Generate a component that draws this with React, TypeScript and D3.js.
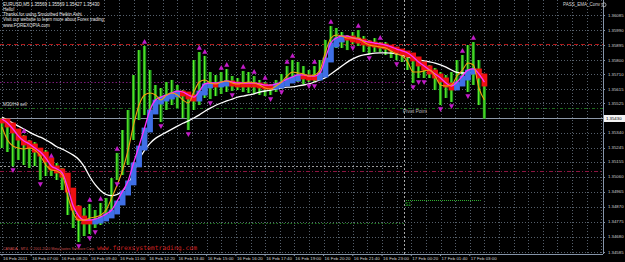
import React from 'react';
import * as d3 from 'd3';

const W = 625;
const H = 262;
const START = new Date(2011, 1, 16, 5, 40);
const DAY2 = new Date(2011, 1, 17, 0, 0);
const BAR_MIN = 15;

const highs = [
  1.35433,1.35408,1.35370,1.35357,1.35325,1.35294,1.35281,1.35243,1.35230,1.35167,
  1.35148,1.35117,1.35041,1.34946,1.34882,1.34863,1.34889,1.34851,1.34895,1.34927,
  1.35053,1.35212,1.35357,1.35484,1.35705,1.35863,1.35889,1.35737,1.35642,1.35623,
  1.35661,1.35674,1.35642,1.35610,1.35598,1.35800,1.35851,1.35826,1.35724,1.35705,
  1.35724,1.35743,1.35699,1.35686,1.35731,1.35724,1.35699,1.35674,1.35661,1.35648,
  1.35674,1.35712,1.35762,1.35800,1.35788,1.35762,1.35737,1.35762,1.35800,1.35927,
  1.36015,1.36003,1.35977,1.35958,1.35977,1.35990,1.35952,1.35927,1.35939,1.35914,
  1.35914,1.35895,1.35876,1.35863,1.35851,1.35813,1.35800,1.35788,1.35769,1.35750,
  1.35724,1.35705,1.35724,1.35800,1.35832,1.35895,1.35914,1.35800,1.35705,
];
const lows = [
  1.35243,1.35218,1.35129,1.35167,1.35136,1.35117,1.35129,1.35041,1.35066,1.35066,
  1.35041,1.34977,1.34819,1.34737,1.34648,1.34686,1.34699,1.34737,1.34756,1.34787,
  1.34838,1.35041,1.35072,1.35136,1.35294,1.35420,1.35452,1.35484,1.35496,1.35408,
  1.35484,1.35515,1.35496,1.35433,1.35357,1.35484,1.35515,1.35560,1.35553,1.35572,
  1.35585,1.35598,1.35604,1.35610,1.35598,1.35591,1.35585,1.35579,1.35572,1.35579,
  1.35598,1.35623,1.35648,1.35661,1.35661,1.35648,1.35661,1.35661,1.35674,1.35705,
  1.35800,1.35876,1.35876,1.35863,1.35901,1.35889,1.35851,1.35838,1.35851,1.35851,
  1.35832,1.35813,1.35800,1.35788,1.35737,1.35655,1.35686,1.35686,1.35686,1.35610,
  1.35515,1.35560,1.35534,1.35610,1.35661,1.35598,1.35642,1.35515,1.35430,
];
const smoothedHA = [
  1.35414,1.35389,1.35351,1.35306,1.35275,1.35256,1.35230,1.35205,1.35167,1.35117,
  1.35098,1.35072,1.34977,1.34863,1.34800,1.34775,1.34775,1.34781,1.34794,1.34813,
  1.34838,1.34895,1.34958,1.35022,1.35136,1.35243,1.35357,1.35471,1.35534,1.35553,
  1.35566,1.35579,1.35591,1.35585,1.35566,1.35553,1.35591,1.35636,1.35642,1.35642,
  1.35648,1.35655,1.35648,1.35642,1.35642,1.35642,1.35642,1.35636,1.35629,1.35629,
  1.35636,1.35648,1.35667,1.35680,1.35693,1.35693,1.35686,1.35686,1.35705,1.35800,
  1.35895,1.35927,1.35939,1.35939,1.35927,1.35920,1.35908,1.35901,1.35895,1.35889,
  1.35882,1.35870,1.35857,1.35845,1.35832,1.35807,1.35775,1.35750,1.35724,1.35699,
  1.35674,1.35642,1.35623,1.35648,1.35686,1.35724,1.35731,1.35699,1.35648,
];
const fastMA = [
  1.35376,1.35294,1.35256,1.35243,1.35237,1.35243,1.35230,1.35193,1.35136,1.35104,
  1.35098,1.35072,1.34939,1.34832,1.34787,1.34787,1.34800,1.34806,1.34819,1.34851,
  1.34927,1.35009,1.35104,1.35230,1.35389,1.35515,1.35579,1.35591,1.35579,1.35547,
  1.35579,1.35591,1.35579,1.35547,1.35528,1.35598,1.35661,1.35674,1.35655,1.35648,
  1.35661,1.35667,1.35655,1.35648,1.35655,1.35661,1.35655,1.35642,1.35623,1.35617,
  1.35636,1.35661,1.35699,1.35724,1.35718,1.35712,1.35699,1.35705,1.35737,1.35851,
  1.35939,1.35958,1.35952,1.35939,1.35939,1.35939,1.35914,1.35895,1.35889,1.35882,
  1.35876,1.35857,1.35838,1.35826,1.35788,1.35724,1.35724,1.35731,1.35737,1.35699,
  1.35642,1.35636,1.35642,1.35699,1.35737,1.35781,1.35769,1.35623,1.35547,
];
const slowMA = [
  1.35439,1.35420,1.35401,1.35382,1.35363,1.35344,1.35325,1.35313,1.35294,1.35275,
  1.35249,1.35237,1.35218,1.35199,1.35174,1.35129,1.35060,1.35009,1.34971,1.34946,
  1.34939,1.34946,1.34971,1.35009,1.35085,1.35174,1.35230,1.35275,1.35306,1.35325,
  1.35344,1.35363,1.35382,1.35401,1.35414,1.35433,1.35452,1.35477,1.35496,1.35515,
  1.35528,1.35541,1.35553,1.35566,1.35572,1.35579,1.35585,1.35598,1.35604,1.35610,
  1.35617,1.35623,1.35629,1.35629,1.35636,1.35642,1.35648,1.35661,1.35674,1.35686,
  1.35712,1.35737,1.35762,1.35788,1.35807,1.35826,1.35832,1.35838,1.35845,1.35845,
  1.35845,1.35845,1.35838,1.35832,1.35819,1.35807,1.35800,1.35794,1.35788,1.35781,
  1.35769,1.35756,1.35737,1.35718,1.35718,1.35718,1.35724,1.35718,1.35705,
];
const upFractals = [4, 9, 16, 18, 21, 26, 36, 37, 40, 41, 44, 46, 48, 52, 53, 57, 60, 65, 69, 84, 86];
const downFractals = [2, 7, 14, 16, 17, 21, 29, 34, 38, 42, 49, 51, 56, 57, 64, 67, 72, 75, 76, 77, 80, 82, 85];

const priceTicks = [
  '1.36085','1.35990','1.35895','1.35800','1.35710','1.35615','1.35525',
  '1.35340','1.35245','1.35155','1.35060','1.34965','1.34870','1.34775','1.34680','1.34585',
];
const currentPrice = 1.3543;
const timeLabels = [
  '16 Feb 2011','16 Feb 07:00','16 Feb 08:20','16 Feb 09:40','16 Feb 11:00','16 Feb 12:20',
  '16 Feb 13:40','16 Feb 15:00','16 Feb 16:20','16 Feb 17:40','16 Feb 19:00','16 Feb 20:20',
  '16 Feb 21:40','16 Feb 23:00','17 Feb 00:20','17 Feb 01:40','17 Feb 03:00',
];
const timeLabelMinutes = [0,80,160,240,320,400,480,560,640,720,800,880,960,1040,1120,1200,1280];

// level lines: price, from-minute, to-minute (null = full width)
const levelPrices = [1.359, 1.35661, 1.35496, 1.35129, 1.35098, 1.34768, 1.34914];
const levelFrom = [null, null, null, null, null, null, 1100];
const levelTo = [null, 1100, null, 1100, null, 1100, 1310];
const levelStyles = [
  { stroke: '#b01818', dash: '4 3', w: 1 },
  { stroke: '#7a1a7a', dash: '1.5 2', w: 1 },
  { stroke: '#1d6a1d', dash: '3 2 1 2', w: 1 },
  { stroke: '#9a9a9a', dash: '2 2', w: 1 },
  { stroke: '#8a1540', dash: '4 2 1 2', w: 1 },
  { stroke: '#1f7a1f', dash: '1.5 2', w: 1 },
  { stroke: '#2fb02f', dash: '1 1', w: 1 },
];

const headerLines = [
  'EURUSD,M5  1.35569 1.35569 1.35427 1.35430',
  'Hello!',
  'Thanks for using Smoothed Heikin Ashi.',
  'Visit our website to learn more about Forex trading:',
  'www.FOREXOPIA.com',
];

const FONT = '"Liberation Sans", Arial, sans-serif';

export default function App() {
  const plotRight = 603;
  const plotBottom = 254;
  const x = d3.scaleTime().domain([START, DAY2]).range([2, 404]);
  const y = d3.scaleLinear().domain([1.34585, 1.36085]).range([252, 15]);
  const t = (m: number) => d3.timeMinute.offset(START, m);
  const bx = (i: number) => x(t(i * BAR_MIN));

  const gridMinutes = d3.range(0, 1700, 40);
  const lineGen = (vals: number[], curve = d3.curveMonotoneX) =>
    d3.line<number>().x((_, i) => bx(i)).y((v) => y(v)).curve(curve)(vals) || '';

  const ribbon = smoothedHA.map((v, i) => {
    const prev = i === 0 ? v : smoothedHA[i - 1];
    const top = Math.min(y(prev), y(v)) - 2.4;
    const bot = Math.max(y(prev), y(v)) + 2.4;
    const up = v > prev;
    return { i, top, bot, up };
  });

  return (
    <svg width={W} height={H} style={{ position: 'fixed', left: 0, top: 0, background: '#000' }}>
      <rect x={0} y={0} width={W} height={H} fill="#000" />
      {/* grid */}
      {priceTicks.map((p) => (
        <line key={'hg' + p} x1={0} x2={plotRight} y1={Math.round(y(+p)) + 0.5} y2={Math.round(y(+p)) + 0.5}
          stroke="#56606c" strokeDasharray="1 2" />
      ))}
      {gridMinutes.map((m) => {
        const gx = Math.round(x(t(m))) + 0.5;
        return gx < plotRight ? (
          <line key={'vg' + m} x1={gx} x2={gx} y1={0} y2={plotBottom} stroke="#56606c" strokeDasharray="1 2" />
        ) : null;
      })}
      {/* level lines */}
      {levelPrices.map((p, i) => {
        const x1 = levelFrom[i] == null ? 0 : x(t(levelFrom[i] as number));
        const x2 = levelTo[i] == null ? plotRight : x(t(levelTo[i] as number));
        const yy = Math.round(y(p)) + 0.5;
        const s = levelStyles[i];
        return <line key={'lv' + i} x1={x1} x2={x2} y1={yy} y2={yy} stroke={s.stroke} strokeWidth={s.w} strokeDasharray={s.dash} />;
      })}
      {/* day separator */}
      <line x1={Math.round(x(DAY2)) + 0.5} x2={Math.round(x(DAY2)) + 0.5} y1={0} y2={plotBottom} stroke="#a8a8a8" strokeDasharray="2 2" />
      {/* current price line */}
      <line x1={0} x2={plotRight} y1={Math.round(y(currentPrice)) + 0.5} y2={Math.round(y(currentPrice)) + 0.5} stroke="#8d98a8" />
      {/* bars */}
      {highs.map((h, i) => {
        const cx = bx(i);
        return (
          <g key={'b' + i}>
            <rect x={cx - 1.6} y={y(h)} width={3.2} height={Math.max(1, y(lows[i]) - y(h))} fill="#188c18" />
            <line x1={cx - 0.3} x2={cx - 0.3} y1={y(h)} y2={y(lows[i])} stroke="#62f22a" strokeWidth={1.1} />
          </g>
        );
      })}
      {/* slow MA */}
      <path d={lineGen(slowMA, d3.curveBasis)} fill="none" stroke="#ffffff" strokeWidth={1.3} />
      {/* smoothed heikin ashi ribbon */}
      {ribbon.map((r) => (
        <rect key={'r' + r.i} x={bx(r.i) - 2.9} y={r.top} width={5.8} height={r.bot - r.top}
          fill={r.up ? '#3f6fe6' : '#ee1111'} />
      ))}
      <path d={lineGen(smoothedHA)} fill="none" stroke="#ff30ff" strokeWidth={1.3} transform="translate(0,-2)" />
      <path d={lineGen(fastMA)} fill="none" stroke="#f0a010" strokeWidth={1.1} />
      {/* fractals */}
      {upFractals.map((i) => {
        const cx = bx(i);
        const cy = y(highs[i]) - 4;
        return <path key={'u' + i} d={`M${cx},${cy - 3}L${cx + 2.6},${cy + 1.8}L${cx - 2.6},${cy + 1.8}Z`} fill="#c21cc8" />;
      })}
      {downFractals.map((i) => {
        const cx = bx(i);
        const cy = y(lows[i]) + 4;
        return <path key={'d' + i} d={`M${cx},${cy + 3}L${cx + 2.6},${cy - 1.8}L${cx - 2.6},${cy - 1.8}Z`} fill="#c21cc8" />;
      })}
      {/* axes */}
      <line x1={plotRight + 0.5} x2={plotRight + 0.5} y1={0} y2={plotBottom} stroke="#8594a8" />
      <line x1={0} x2={plotRight} y1={plotBottom + 0.5} y2={plotBottom + 0.5} stroke="#8594a8" />
      {priceTicks.map((p) => (
        <g key={'pt' + p}>
          <line x1={plotRight} x2={plotRight + 2} y1={Math.round(y(+p)) + 0.5} y2={Math.round(y(+p)) + 0.5} stroke="#8594a8" />
          <text x={608} y={y(+p) + 1.5} fontSize={4.3} fill="#d0d0d0" fontFamily={FONT}>{p}</text>
        </g>
      ))}
      <rect x={604} y={y(currentPrice) - 3.5} width={21} height={7} fill="#f4f4f4" />
      <text x={606} y={y(currentPrice) + 1.6} fontSize={4.3} fill="#000" fontFamily={FONT}>{currentPrice.toFixed(5)}</text>
      {timeLabels.map((l, i) => {
        const lx = x(t(timeLabelMinutes[i]));
        return (
          <g key={'tl' + i}>
            <line x1={lx} x2={lx} y1={plotBottom} y2={plotBottom + 2} stroke="#8594a8" />
            <text x={lx + 1} y={259.8} fontSize={4.4} fill="#d0d0d0" fontFamily={FONT}>{l}</text>
          </g>
        );
      })}
      {/* texts */}
      {headerLines.map((l, i) => (
        <text key={'h' + i} x={3} y={5.5 + i * 5.3} fontSize={4.5} fill="#e8e8e8" fontFamily={FONT}>{l}</text>
      ))}
      <text x={563} y={6} fontSize={4.5} fill="#d8d8d8" fontFamily={FONT}>PASS_EMA_Conv</text>
      <circle cx={604} cy={4.8} r={2} fill="none" stroke="#d8d8d8" strokeWidth={0.7} />
      <text x={3} y={106} fontSize={4.5} fill="#d8d8d8" fontFamily={FONT}>M30/H4 sell</text>
      <text x={403} y={113} fontSize={5} fill="#b8b8b8" fontFamily={FONT}>Pivot Point</text>
      <text x={405} y={206} fontSize={5} fill="#2fb02f" fontFamily={FONT}>S1</text>
      <text x={3} y={249.5} fontSize={4} fill="#d05050" fontFamily={FONT} textLength={92} lengthAdjust="spacingAndGlyphs">CANADA - MT4, © 2001-2010 MetaQuotes Software Corp.</text>
      <text x={97} y={249.5} fontSize={6.3} fill="#d02020" fontFamily={'"DejaVu Sans Mono", monospace'} textLength={100} lengthAdjust="spacingAndGlyphs">www.forexsystemtrading.com</text>
    </svg>
  );
}
